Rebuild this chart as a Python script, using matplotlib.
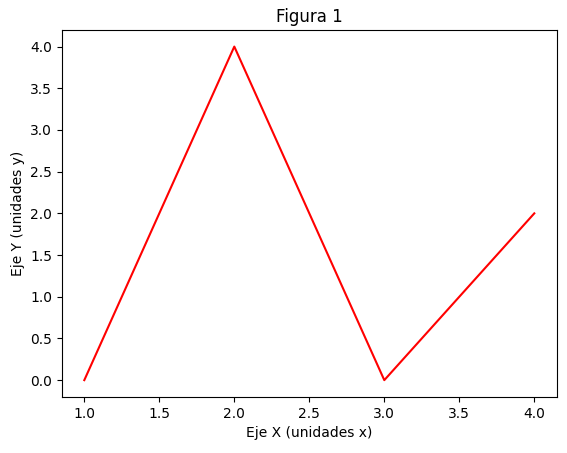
import matplotlib
matplotlib.use("Agg")
import matplotlib.pyplot as plt

x = [1, 2, 3, 4]
y = [0, 4, 0, 2]

fig, ax = plt.subplots(figsize=(5.67, 4.53), dpi=100)
fig.subplots_adjust(left=0.109, right=0.982, top=0.934, bottom=0.124)
ax.plot(x, y, color='red')
ax.set_title("Figura 1")
ax.set_xlabel("Eje X (unidades x)")
ax.set_ylabel("Eje Y (unidades y)")
fig.savefig("out.png")
